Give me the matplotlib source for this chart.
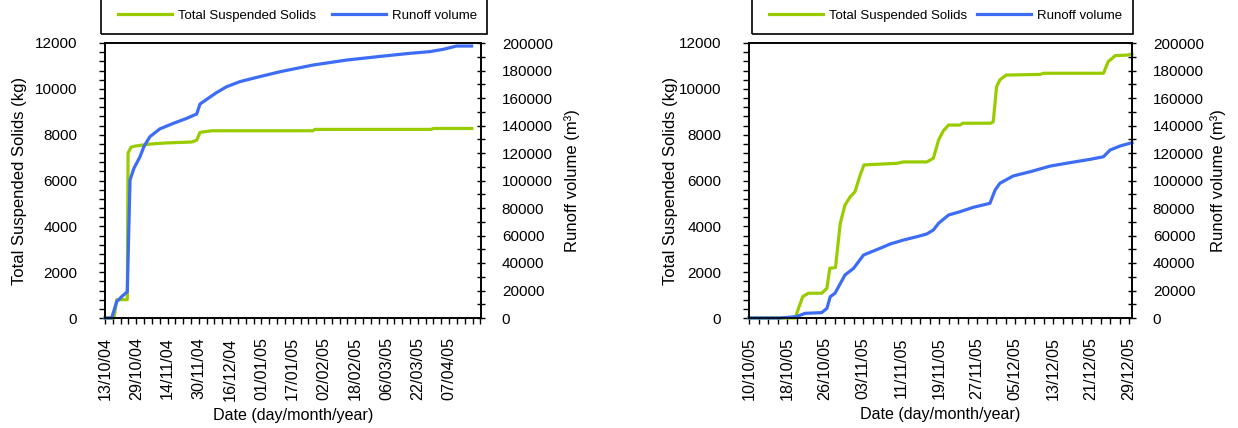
import matplotlib
matplotlib.use("Agg")
import matplotlib.pyplot as plt
import matplotlib.dates as mdates
import pandas as pd
from matplotlib.ticker import MultipleLocator, FixedLocator
from matplotlib.patches import Rectangle

plt.rcParams['font.family'] = ['Liberation Sans', 'DejaVu Sans']

# ---------------- Data (days since start date, values) ----------------
# Panel 1: 13/10/2004 onward
start1 = "2004-10-13"
tss1_days = [0, 4.6, 6.0, 11.4, 11.8, 13.3, 15.3, 23.0, 31.5, 44.3, 46.9, 48.6, 54.5,
             106.3, 107.4, 166.7, 168.0, 187.6]
tss1_vals = [0, 0, 800, 800, 7200, 7450, 7500, 7590, 7640, 7680, 7760, 8100, 8170,
             8170, 8230, 8230, 8270, 8270]
run1_days = [0, 3.4, 6.0, 8.5, 11.4, 12.8, 14.8, 17.9, 20.0, 23.0, 28.0, 35.0, 41.8,
             46.9, 48.6, 52.8, 57.0, 62.2, 69.0, 77.6, 89.5, 106.5, 123.6, 142.3, 156.0,
             166.0, 173.0, 179.8, 187.5]
run1_vals = [0, 0, 11900, 15500, 19100, 100400, 108900, 117300, 125000, 131900, 137500,
             141600, 145200, 148400, 155600, 159800, 163900, 168200, 171900, 175000,
             179100, 184000, 187600, 190500, 192500, 193700, 195400, 197800, 197800]
xmax1_days = 192.3
major1 = "16D"
minor1 = "4D"
n_major1 = 12

# Panel 2: 10/10/2005 onward
start2 = "2005-10-10"
tss2_days = [0, 9.7, 11.3, 12.5, 15.3, 16.4, 17.0, 18.2, 19.2, 20.2, 21.3, 22.3, 23.4,
             24.2, 31.1, 32.5, 37.4, 38.8, 39.9, 40.9, 42.0, 44.4, 45.0, 50.9, 51.4,
             52.1, 52.8, 54.1, 61.3, 62.0, 74.6, 75.6, 77.1, 79.5, 80.6]
tss2_vals = [0, 0, 930, 1080, 1080, 1300, 2170, 2200, 4130, 4930, 5290, 5510, 6240,
             6680, 6750, 6810, 6810, 6970, 7770, 8170, 8420, 8420, 8500, 8500, 8570,
             10090, 10390, 10600, 10630, 10680, 10680, 11190, 11450, 11470, 11520]
run2_days = [0, 6.5, 10.0, 11.8, 15.3, 16.4, 17.1, 18.1, 20.2, 22.0, 24.1, 25.8, 27.6,
             29.7, 32.5, 35.3, 37.4, 38.8, 39.9, 42.0, 44.4, 47.2, 50.7, 51.8, 52.8,
             55.6, 59.2, 63.4, 67.6, 71.8, 74.6, 76.0, 78.1, 80.6]
run2_vals = [0, 0, 1000, 3400, 3900, 7000, 15500, 18000, 31300, 36100, 45800, 48200,
             50700, 53800, 56700, 59100, 61100, 64000, 68900, 74900, 77300, 80500,
             83400, 93100, 98000, 103300, 106400, 110500, 113000, 115400, 117300,
             122200, 125100, 127500]
xmax2_days = 80.6
major2 = "8D"
minor2 = "2D"
n_major2 = 11

tss_label = "Total Suspended Solids"
run_label = "Runoff volume"
green = "#99CC00"
blue = "#3D6CF5"

W, H = 1238, 428
fig = plt.figure(figsize=(W / 100, H / 100), dpi=100)

AX_TOP, AX_BOT = 43, 318


def px(x0, y_top, x1, y_bot):
    return [x0 / W, 1 - y_bot / H, (x1 - x0) / W, (y_bot - y_top) / H]


def panel(rect, start, tdays, tvals, rdays, rvals, xmax, major, minor, nmaj,
          box_x0, box_x1, ent_x0, ent_x1, ylab_x, rlab_x):
    s = pd.Timestamp(start)
    ax = fig.add_axes(rect)
    ax2 = ax.twinx()
    tx = [s + pd.Timedelta(days=d) for d in tdays]
    rx = [s + pd.Timedelta(days=d) for d in rdays]
    l1, = ax.plot(tx, tvals, color=green, lw=2.3, clip_on=False, label=tss_label)
    l2, = ax2.plot(rx, rvals, color=blue, lw=2.3, clip_on=False, label=run_label)
    ax.set_xlim(s, s + pd.Timedelta(days=xmax))
    ax.set_ylim(0, 12000)
    ax2.set_ylim(0, 200000)
    ax.yaxis.set_major_locator(MultipleLocator(2000))
    ax.yaxis.set_minor_locator(MultipleLocator(400))
    ax2.yaxis.set_major_locator(MultipleLocator(20000))
    ax2.yaxis.set_minor_locator(MultipleLocator(10000))
    majors = pd.date_range(s, periods=nmaj, freq=major)
    minors = pd.date_range(s, s + pd.Timedelta(days=xmax), freq=minor)
    ax.xaxis.set_major_locator(FixedLocator(mdates.date2num(majors)))
    ax.xaxis.set_minor_locator(FixedLocator(mdates.date2num(minors)))
    ax.xaxis.set_major_formatter(mdates.DateFormatter("%d/%m/%y"))
    for lab in ax.get_xticklabels():
        lab.set_rotation(90)
    ax.tick_params(axis='x', which='both', direction='out', length=4, width=1,
                   labelsize=11.6, pad=10)
    ax.tick_params(axis='y', which='both', direction='out', length=4, width=1,
                   labelsize=11, pad=16)
    ax2.tick_params(axis='y', which='both', direction='inout', length=6, width=1,
                    labelsize=11, pad=12)
    for a in (ax, ax2):
        for sp in a.spines.values():
            sp.set_linewidth(1.2)
            sp.set_color("black")
    ax.set_xlabel("Date (day/month/year)", fontsize=11.6, labelpad=5)
    ax.set_ylabel("Total Suspended Solids (kg)", fontsize=12)
    ax2.set_ylabel("Runoff volume (m³)", fontsize=12)
    yc = 1 - (AX_TOP + AX_BOT) / 2 / H
    ax.yaxis.set_label_coords(ylab_x, yc, transform=fig.transFigure)
    ax2.yaxis.set_label_coords(rlab_x, yc, transform=fig.transFigure)
    ax.yaxis.label.set_verticalalignment('center')
    ax2.yaxis.label.set_verticalalignment('center')
    # legend box (its top runs off the top of the figure)
    fig.patches.append(Rectangle((box_x0 / W, 1 - 34 / H), (box_x1 - box_x0) / W, 0.2,
                                 transform=fig.transFigure, facecolor='none',
                                 edgecolor='black', linewidth=1.2))
    ax2.legend([l1, l2], [tss_label, run_label], ncol=2, loc='center left',
               bbox_to_anchor=(ent_x0 / W, 1 - 16 / H, (ent_x1 - ent_x0) / W, 0),
               bbox_transform=fig.transFigure, mode='expand', fontsize=9.5,
               frameon=False, borderpad=0, handlelength=4.1, handletextpad=0.45,
               columnspacing=1.0, borderaxespad=0)
    return ax, ax2


panel(px(105, AX_TOP, 481, AX_BOT), start1, tss1_days, tss1_vals, run1_days, run1_vals,
      xmax1_days, major1, minor1, n_major1, 101, 487, 118, 477, 20 / W, 572 / W)
panel(px(749, AX_TOP, 1132, AX_BOT), start2, tss2_days, tss2_vals, run2_days, run2_vals,
      xmax2_days, major2, minor2, n_major2, 752, 1133, 769, 1122, 671 / W, 1218 / W)

fig.savefig("out.png", dpi=100)
